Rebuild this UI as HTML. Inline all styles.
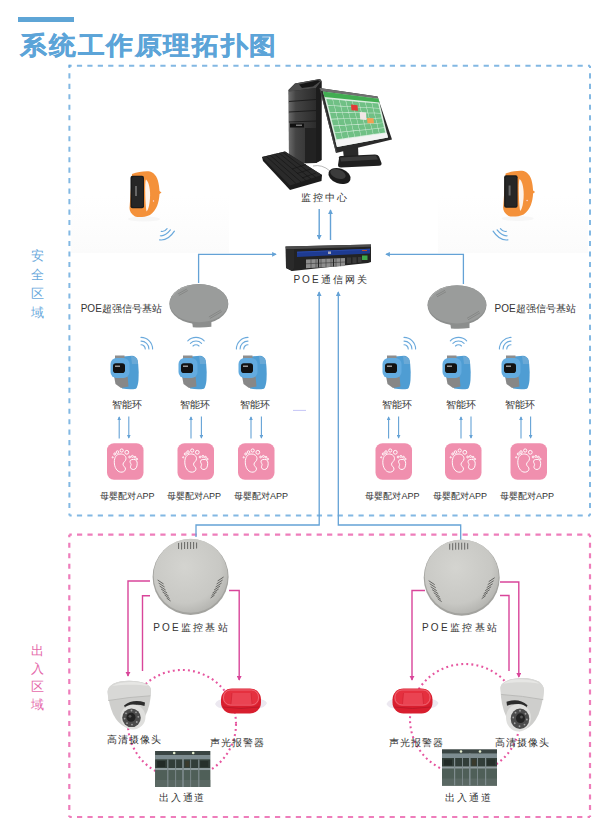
<!DOCTYPE html>
<html><head><meta charset="utf-8">
<style>
html,body{margin:0;padding:0;background:#fff;width:600px;height:820px;overflow:hidden;}
svg{display:block;font-family:"Liberation Sans",sans-serif;}
.lb{font-size:10px;fill:#333;font-weight:500;}
.sm{font-size:9px;fill:#333;font-weight:500;}
.lm{font-size:10px;fill:#333;font-weight:500;}
</style></head>
<body>
<svg width="600" height="820" viewBox="0 0 600 820">
<defs>
  <marker id="ab" viewBox="0 0 6 6" refX="5" refY="3" markerWidth="3.6" markerHeight="3.6" orient="auto-start-reverse">
    <path d="M0,0 L6,3 L0,6 z" fill="#64a2d6"/>
  </marker>
  <marker id="ap" viewBox="0 0 6 6" refX="5" refY="3" markerWidth="3.6" markerHeight="3.6" orient="auto-start-reverse">
    <path d="M0,0 L6,3 L0,6 z" fill="#d9459a"/>
  </marker>
  <!-- wifi arcs, concave toward bottom (origin at arc center) -->
  <g id="wifi" fill="none" stroke="#6aa9dc" stroke-width="1.1" stroke-linecap="round">
    <path d="M-3,-3 A4.2,4.2 0 0 1 3,-3"/>
    <path d="M-5.6,-5.6 A7.9,7.9 0 0 1 5.6,-5.6"/>
    <path d="M-8.2,-8.2 A11.6,11.6 0 0 1 8.2,-8.2"/>
  </g>
  <!-- orange band watch, origin top-left 128,171 -->
  <g id="ow">
    <ellipse cx="22" cy="53" rx="16" ry="2.5" fill="#f6f6f6"/>
    <path d="M10,8 C16,6 22,5 28,5.5 C33,7 36,12 37,20 L37.5,25 L39.5,26.5 L37.5,28 C37,36 35,44 28,49 C22,51.5 16,51.5 13,50.5 C9,48 7.5,45 7.5,42 Z" fill="#f4913a"/>
    <path d="M24,13.5 C27,16 28.5,24 28,32 C27.5,40 26,44 24.5,45.5 C23.5,40 23.2,30 23.2,22 C23.2,17 23.5,14.5 24,13.5Z" fill="#fdf3ea"/>
    <rect x="8.5" y="9.8" width="13.5" height="32.5" rx="2" fill="#1b1b1b"/>
    <rect x="10" y="11" width="11" height="30" rx="1.5" fill="#262626"/>
    <rect x="13" y="20" width="2" height="10" fill="#666"/>
    <circle cx="31.5" cy="35" r="0.7" fill="#fde"/>
  </g>
  <!-- blue watch, origin 110,355 -->
  <g id="bw">
    <path d="M13,1.5 L22,0.8 Q26,1 27.5,5 L28.2,9 Q29,16 28.5,25 Q28,31 26,33.8 Q20,35 12,33.5 Z" fill="#4f9dd3"/>
    <path d="M21,1 Q26,1.5 27.5,5 L28,9 L22,9 Z" fill="#6aa9d6"/>
    <rect x="5" y="0.5" width="9.5" height="5.5" fill="#8e8e8e"/>
    <path d="M4,21 L17.5,21 L18.5,31.5 L11,33 L5.5,29 Z" fill="#878787"/>
    <rect x="0.5" y="3" width="19" height="20" rx="6" fill="#63abdf"/>
    <rect x="3" y="8.3" width="12" height="9.7" rx="2.8" fill="#121212"/>
    <rect x="5" y="10.5" width="5" height="1.5" fill="#999"/>
  </g>
  <!-- app icon origin top-left, 36x36 -->
  <g id="app">
    <rect x="0" y="0" width="36.5" height="36.5" rx="7" fill="#f08fae"/>
    <g fill="none" stroke="#fff" stroke-width="0.95">
      <path d="M13,10.8 C16.5,10.6 19,12.5 19,15.5 C19,18 16,19 16,21 C16,23 18.8,24 18.5,26 C18,28.5 15.5,29.2 13.5,28.9 C10,28.5 7.3,24 7.3,19 C7.3,14 9.5,11 13,10.8 Z"/>
      <circle cx="14.7" cy="7.3" r="1.6"/><circle cx="19.8" cy="9.1" r="1.9"/><circle cx="10.5" cy="8.9" r="1.3"/>
      <circle cx="7.8" cy="10.8" r="1.05"/><circle cx="5.7" cy="14.1" r="0.6"/>
      <path d="M26.5,16.2 C29,16 30.3,18 30.2,20.5 C30.1,23.5 29,26.3 26.5,26.3 C24.5,26.3 23.2,25 23.5,23.5 C23.8,22 24.5,21.5 23.8,20.5 C23,19.2 22.7,18 23.5,17 C24.2,16.4 25.3,16.2 26.5,16.2 Z"/>
      <circle cx="22.6" cy="13.8" r="0.9"/><circle cx="25.4" cy="13.2" r="1"/><circle cx="28" cy="14" r="0.9"/><circle cx="29.9" cy="15.9" r="0.75"/>
    </g>
  </g>
  <!-- gray ceiling base station, origin center -->
  <g id="gs">
    <path d="M-7,16 L12.5,16 L12.5,22.8 Q3,24 -6,23.2 Z" fill="#8c8e8d"/>
    <ellipse cx="0" cy="0" rx="29.5" ry="20" fill="#8c8e8d"/>
    <ellipse cx="0" cy="-0.8" rx="29.2" ry="19" fill="#9a9c9b"/>
    <path d="M-26,-8 Q-22,-15 -10,-18.5" stroke="#a9abaa" stroke-width="1" fill="none"/>
    <g stroke="#7c7e7d" stroke-width="0.7">
      <path d="M-21,-10 L-12,-15 M-20,-8.5 L-11,-13.5"/>
      <path d="M10,13 L22,6 M11,14.5 L23,7.5"/>
    </g>
  </g>
  <!-- POE monitor base station, origin center r=38 -->
  <radialGradient id="pg" cx="0.42" cy="0.38" r="0.65">
    <stop offset="0" stop-color="#d4d4d0"/>
    <stop offset="0.75" stop-color="#c8c8c4"/>
    <stop offset="1" stop-color="#b4b4b0"/>
  </radialGradient>
  <g id="ps">
    <circle cx="0" cy="0" r="38" fill="#a3a39f"/>
    <circle cx="0" cy="-1.2" r="37" fill="url(#pg)"/>
    <g stroke="#5a5a58" stroke-width="0.9">
      <path d="M-12,-34 v6 M-9,-34.5 v7 M-6,-35 v7 M-3,-35 v7 M0,-35 v7 M3,-35 v7 M6,-34.5 v6"/>
      <path d="M-33,3 l6,4 M-32,6 l6,4 M-31,9 l6,4 M-29.5,12 l6,4 M-28,15 l6,4 M-26,18 l5,3.5 M-24,21 l4,3"/>
      <path d="M33,0 l-6,4 M32,3 l-6,4 M31,6 l-6,4 M29.5,9 l-6,4 M28,12 l-6,4 M26,15 l-5,3.5 M24,18 l-4,3"/>
    </g>
  </g>
  <!-- dome camera, origin top-left 107,680 (48x50) -->
  <g id="cam">
    <path d="M3.6,16 C3.6,9 12,5 25,4.8 C38,5 47,8.5 47,14 L46.5,22 Q45,36 37,47 Q30,53 22,51.5 Q14,48 9,38 Q5,29 3.6,16 Z" fill="#cececc"/>
    <path d="M3.6,16 C3.6,9 12,5 25,4.8 C38,5 47,8.5 47,14 L46.3,19.8 Q25,21 4.3,24.5 Z" fill="#d8d8d6"/>
    <path d="M8,10 C14,6.5 22,5.8 30,6 C37,6.3 42,8 44,10 C36,8.5 20,8.2 8,10Z" fill="#e6e6e4"/>
    <path d="M4.3,24.5 Q25,21 46.3,19.8" stroke="#b9b9b7" stroke-width="0.9" fill="none"/>
    <path d="M20,29.5 Q29,22.5 41,26.5 L40.5,30 Q30,26.5 21.5,32.5 Z" fill="#2c2c2c"/>
    <circle cx="29" cy="41" r="12.5" fill="#dfdfdd"/>
    <circle cx="27.5" cy="41.8" r="9.3" fill="#4c4c4c"/>
    <circle cx="27" cy="41.3" r="4.5" fill="#232323"/>
    <circle cx="26" cy="40.3" r="1.4" fill="#5a5a5a"/>
    <g fill="#a0a0a0">
      <circle cx="27.5" cy="34.5" r="0.9"/><circle cx="32" cy="36.3" r="0.9"/><circle cx="34.3" cy="40.8" r="0.9"/>
      <circle cx="32.8" cy="46" r="0.9"/><circle cx="28" cy="48.6" r="0.9"/><circle cx="23" cy="47.2" r="0.9"/>
      <circle cx="20.6" cy="42.6" r="0.9"/><circle cx="22" cy="37.3" r="0.9"/>
    </g>
  </g>
  <!-- red alarm, origin top-left 215,688 -->
  <g id="alm">
    <path d="M-6,16 Q-4,11 4,11 L36,11 Q44,11 46,15 Q44,20 36,20.5 L4,20.5 Q-4,20.5 -6,16Z" fill="#ece8f0"/>
    <rect x="0" y="0.5" width="40" height="25" rx="11" fill="#d81e2e"/>
    <rect x="1.5" y="1" width="37" height="17" rx="8" fill="#e5303f"/>
    <rect x="2.5" y="2" width="35" height="15" rx="7" fill="none" stroke="#f07a86" stroke-width="0.7"/>
    <path d="M11,5 L30,5 L31,16 L10,16 Z" fill="#ea4352"/>
    <path d="M11,5 L10,16 M30,5 L31,16" stroke="#c81a2a" stroke-width="0.5"/>
    <path d="M2,19 Q20,22 38,19" stroke="#b81828" stroke-width="0.8" fill="none"/>
  </g>
  <!-- gate picture, origin top-left 155,751 (55x36) -->
  <g id="gate">
    <rect x="0" y="0" width="55" height="36" fill="#4e5d57"/>
    <rect x="0" y="0" width="55" height="4" fill="#3a4543"/>
    <rect x="0" y="4" width="55" height="4.5" fill="#7d8c90"/>
    <rect x="0" y="8.5" width="55" height="8.5" fill="#323e39"/>
    <rect x="0" y="17" width="55" height="2.2" fill="#8f9c9e"/>
    <rect x="0" y="19.2" width="55" height="16.8" fill="#4f5f58"/>
    <rect x="0" y="29" width="55" height="7" fill="#5a6863"/>
    <g fill="#7f8c8e">
      <rect x="12" y="8.5" width="1.2" height="27.5"/><rect x="20" y="8.5" width="0.9" height="27.5"/>
      <rect x="27" y="4" width="1.6" height="32"/><rect x="35" y="8.5" width="0.9" height="27.5"/><rect x="43" y="8.5" width="1.2" height="27.5"/>
    </g>
    <rect x="2" y="10" width="8" height="6" fill="#222b27"/><rect x="30" y="10" width="4" height="6" fill="#3a3a2c"/><rect x="45" y="10" width="8" height="6" fill="#26302b"/>
    <circle cx="19" cy="2" r="1.3" fill="#e6efd0"/><circle cx="38" cy="2" r="1.3" fill="#e6efd0"/>
  </g>
</defs>

<linearGradient id="fb" x1="0" y1="0" x2="0" y2="1"><stop offset="0" stop-color="#fff"/><stop offset="1" stop-color="#fbfbfb"/></linearGradient>
<rect x="71" y="196" width="158" height="57" fill="url(#fb)"/>
<rect x="438" y="196" width="150" height="57" fill="url(#fb)"/>
<!-- title -->
<rect x="18" y="17" width="56" height="5" fill="#5ea5d6"/>
<text x="0" y="53.6" transform="translate(20.3,0) scale(1.07,1)" font-size="25" font-weight="bold" letter-spacing="1.65" fill="#5ca4d8" stroke="#5ca4d8" stroke-width="0.35">系统工作原理拓扑图</text>

<!-- dashed frames -->
<g fill="none" stroke="#82b8e3" stroke-width="2">
  <line x1="69.4" y1="65.7" x2="590" y2="65.7" stroke-dasharray="5.2 5.23" stroke-dashoffset="2.93"/>
  <line x1="69.4" y1="515.5" x2="590" y2="515.5" stroke-dasharray="5.2 5.23" stroke-dashoffset="2.93"/>
  <line x1="69.4" y1="65.7" x2="69.4" y2="515.5" stroke-dasharray="5.1 5.38" stroke-dashoffset="2.88"/>
  <line x1="590" y1="65.7" x2="590" y2="515.5" stroke-dasharray="5.1 5.38" stroke-dashoffset="2.88"/>
  <rect x="68.4" y="64.7" width="2" height="2" fill="#6aa9dc" stroke="none"/>
</g>
<g fill="none" stroke="#ee7dbb" stroke-width="2.2">
  <line x1="69.3" y1="534.7" x2="590" y2="534.7" stroke-dasharray="5.2 5.22" stroke-dashoffset="2.72"/>
  <line x1="69.3" y1="817" x2="590" y2="817" stroke-dasharray="5.2 5.22" stroke-dashoffset="2.72"/>
  <line x1="69.3" y1="534.7" x2="69.3" y2="817" stroke-dasharray="5 5.49" stroke-dashoffset="2.49"/>
  <line x1="590" y1="534.7" x2="590" y2="817" stroke-dasharray="5 5.49" stroke-dashoffset="2.49"/>
</g>

<!-- side labels -->
<g font-size="13" fill="#6aa9dc" text-anchor="middle">
  <text x="37" y="260">安</text><text x="37" y="278.5">全</text><text x="37" y="298">区</text><text x="37" y="317">域</text>
</g>
<g font-size="13" fill="#e569aa" text-anchor="middle">
  <text x="37" y="655">出</text><text x="37" y="673">入</text><text x="37" y="690.5">区</text><text x="37" y="708.5">域</text>
</g>

<!-- ====== computer ====== -->
<g id="pc">
  <!-- tower -->
  <linearGradient id="tw" x1="0" y1="0" x2="1" y2="0"><stop offset="0" stop-color="#6a6a6a"/><stop offset="0.25" stop-color="#444"/><stop offset="1" stop-color="#2c2c2c"/></linearGradient>
  <path d="M288.5,90 L295,83.5 L320,79 L321.5,81 L321.5,160 L316,163 L289,163.5 Z" fill="#262626"/>
  <path d="M288.5,90 L295,83.5 L320,79 L321.5,81 L316,88 L289,91.5 Z" fill="#4c4c4c"/>
  <path d="M299,84.5 L318,80.3 L320,81.5 L313,86.5 L302,88 Z" fill="#161616"/>
  <path d="M289,91.5 L316,88 L316,163 L289,163.5 Z" fill="url(#tw)"/>
  <path d="M316,88 L321.5,81 L321.5,160 L316,163 Z" fill="#1c1c1c"/>
  <g stroke="#1a1a1a" stroke-width="0.9"><path d="M289,101.5 L316,99.5 M289,112 L316,110.5 M289,122 L316,121"/></g>
  <rect x="290" y="123.5" width="14" height="4" fill="#111"/>
  <rect x="296" y="124.5" width="6" height="1.5" fill="#777"/>
  <rect x="305" y="128" width="11" height="35" fill="#222"/>
  <!-- monitor -->
  <path d="M319.5,88 L377.5,96.5 L392,139.5 L336,153 Z" fill="#2a2a2a"/>
  <path d="M319.5,88 L377.5,96.5 L378.5,99 L321,91 Z" fill="#707070"/>
  <path d="M319.5,88 L321,91 L337,152.5 L336,153 Z" fill="#4a4a4a"/>
  <path d="M323.0,91.5 L378.5,98.7 L388.0,137.5 L337.0,147.0Z" fill="#d9eedf"/>
  <path d="M323.0,91.5 L378.5,98.7 L379.5,102.6 L324.4,97.1Z" fill="#42ad52"/>
  <path d="M326.4,98.9 L332.5,99.5 L334.0,105.4 L328.0,105.1Z M332.9,99.5 L339.0,100.1 L340.5,105.8 L334.4,105.5Z M339.5,100.1 L345.5,100.7 L346.9,106.2 L340.9,105.8Z M346.0,100.7 L352.1,101.3 L353.4,106.6 L347.4,106.2Z M352.5,101.3 L358.6,101.9 L359.9,106.9 L353.8,106.6Z M359.0,101.9 L365.1,102.4 L366.3,107.3 L360.3,107.0Z M365.6,102.5 L371.6,103.0 L372.8,107.7 L366.7,107.3Z M372.1,103.1 L378.2,103.6 L379.2,108.0 L373.2,107.7Z M328.1,105.7 L334.2,106.1 L335.7,112.0 L329.7,111.9Z M334.6,106.1 L340.6,106.4 L342.1,112.2 L336.1,112.0Z M341.1,106.4 L347.1,106.8 L348.5,112.3 L342.5,112.2Z M347.5,106.8 L353.5,107.1 L354.9,112.4 L348.9,112.3Z M354.0,107.1 L360.0,107.5 L361.2,112.5 L355.3,112.4Z M360.4,107.5 L366.4,107.8 L367.6,112.7 L361.7,112.6Z M366.9,107.8 L372.9,108.2 L374.0,112.8 L368.1,112.7Z M373.3,108.2 L379.3,108.5 L380.4,112.9 L374.5,112.8Z M329.9,112.6 L335.8,112.7 L337.3,118.6 L331.4,118.7Z M336.3,112.7 L342.2,112.8 L343.7,118.5 L337.8,118.6Z M342.6,112.8 L348.6,112.9 L350.0,118.4 L344.1,118.5Z M349.0,112.9 L355.0,113.0 L356.3,118.3 L350.4,118.4Z M355.4,113.0 L361.4,113.1 L362.6,118.2 L356.7,118.3Z M361.8,113.1 L367.8,113.2 L369.0,118.0 L363.1,118.2Z M368.2,113.2 L374.2,113.3 L375.3,117.9 L369.4,118.0Z M374.6,113.3 L380.5,113.4 L381.6,117.8 L375.7,117.9Z M331.6,119.4 L337.5,119.3 L339.0,125.2 L333.1,125.6Z M337.9,119.3 L343.8,119.1 L345.2,124.9 L339.4,125.2Z M344.2,119.1 L350.1,119.0 L351.5,124.5 L345.7,124.8Z M350.6,119.0 L356.5,118.8 L357.8,124.1 L351.9,124.5Z M356.9,118.8 L362.8,118.7 L364.0,123.8 L358.2,124.1Z M363.2,118.7 L369.1,118.6 L370.3,123.4 L364.5,123.8Z M369.5,118.5 L375.4,118.4 L376.6,123.0 L370.7,123.4Z M375.8,118.4 L381.7,118.3 L382.8,122.7 L377.0,123.0Z M333.3,126.2 L339.1,125.9 L340.6,131.8 L334.9,132.4Z M339.6,125.9 L345.4,125.5 L346.8,131.2 L341.1,131.8Z M345.8,125.5 L351.7,125.1 L353.0,130.6 L347.3,131.2Z M352.1,125.1 L357.9,124.7 L359.2,130.0 L353.5,130.6Z M358.3,124.7 L364.2,124.3 L365.4,129.4 L359.7,130.0Z M364.6,124.3 L370.4,123.9 L371.6,128.8 L365.8,129.4Z M370.8,123.9 L376.7,123.5 L377.8,128.2 L372.0,128.7Z M377.1,123.5 L382.9,123.1 L384.0,127.6 L378.2,128.1Z M335.0,133.1 L340.8,132.5 L342.3,138.4 L336.6,139.2Z M341.2,132.4 L347.0,131.8 L348.4,137.6 L342.7,138.4Z M347.4,131.8 L353.2,131.2 L354.6,136.7 L348.9,137.5Z M353.6,131.2 L359.4,130.6 L360.7,135.9 L355.0,136.7Z M359.8,130.5 L365.6,129.9 L366.8,135.0 L361.1,135.8Z M366.0,129.9 L371.8,129.3 L373.0,134.1 L367.2,135.0Z M372.2,129.3 L377.9,128.7 L379.1,133.3 L373.4,134.1Z M378.4,128.6 L384.1,128.0 L385.2,132.4 L379.5,133.2Z" fill="#70c085"/>
  <path d="M351,104.5 L357.5,105.3 L358,110.7 L351.5,110.2Z" fill="#e23a36"/>
  <path d="M359.7,112 L366,112.6 L366.5,120 L360.2,119.5Z" fill="#f2e6e6"/>
  <path d="M367,118 L373.5,118.3 L374,123.3 L367.5,123.2Z" fill="#f3a052"/>
  <path d="M335.4,140.6 L386.9,133.0 L388.0,137.5 L337.0,147.0Z" fill="#f4f4f4"/>
  <!-- stand -->
  <path d="M343,150 L358,146.5 L358.5,157.5 L344,159 Z" fill="#2a2a2a"/>
  <path d="M339,158.5 Q338,156.5 341,156 L375,154.5 Q378,154.5 379,156.5 L381.5,163 Q382,165.5 379,165.8 L341,167.5 Q338,167.5 338,165 Z" fill="#1f1f1f"/>
  <path d="M340,157.5 L376,155.5 L378,159.5 L341,161.5 Z" fill="#3a3a3a"/>
  <!-- keyboard -->
  <path d="M262,157 L285,151.5 L322,175 L321.5,181 L290,190 L263,161 Z" fill="#1c1c1c"/>
  <path d="M262,157 L285,151.5 L322,175 L290,185.5 Z" fill="#2a2a2a"/>
  <g stroke="#161616" stroke-width="0.7">
    <path d="M266,156 L296,183.5 M270,155 L301,182 M274.5,154 L306,180.5 M279,153 L311,179 M283,152.3 L316,177.5"/>
    <path d="M292,169 L306,164.5 M297,173.5 L311,169 M302,178 L316,173"/>
  </g>
  <!-- mouse -->
  <path d="M313,166 Q322,164 330,171" stroke="#8a8a8a" stroke-width="0.6" fill="none"/>
  <ellipse cx="339.5" cy="176" rx="11.5" ry="7.5" transform="rotate(20 339.5 176)" fill="#1c1c1c"/>
  <ellipse cx="338" cy="174" rx="8" ry="4.5" transform="rotate(20 338 174)" fill="#3c3c3c"/>
</g>
<text class="lb" x="325" y="200.5" text-anchor="middle" letter-spacing="2">监控中心</text>

<!-- arrows computer <-> switch -->
<line x1="319.2" y1="209" x2="319.2" y2="239" stroke="#64a2d6" stroke-width="1.4" marker-end="url(#ab)"/>
<line x1="330.5" y1="240" x2="330.5" y2="210" stroke="#64a2d6" stroke-width="1.4" marker-end="url(#ab)"/>

<!-- ====== switch ====== -->
<g id="sw">
  <path d="M285.5,246.5 L371,244.5 L371,262 L368,263 L292,271 L286,268 Z" fill="#232323"/>
  <path d="M285.5,246.5 L371,244.5 L371,246.8 L286,249.2 Z" fill="#4c4c4c"/>
  <path d="M286,249.2 L294,249 L294,268 L292,271 L286,268 Z" fill="#2a2a2a"/>
  <path d="M297,251.8 L370,248.8 L370,253.5 L297,257 Z" fill="#1e3b92"/>
  <path d="M297,251.8 L370,248.8 L370,249.8 L297,252.8 Z" fill="#2a4aa8"/>
  <rect x="328" y="251.5" width="3" height="2.5" fill="#aab"/>
  <path d="M306,259.5 L345,258 L345,266 L306,268.3 Z" fill="#8e8e8e"/>
  <g stroke="#3a3a3a" stroke-width="0.6">
    <path d="M306,263.8 L345,262"/>
    <path d="M311,259.3 V268 M316,259.1 V267.7 M321,258.9 V267.4 M326,258.7 V267.1 M331,258.5 V266.8 M336,258.3 V266.5 M340.5,258.1 V266.2"/>
    <path d="M318.5,259 V267.5 M333.5,258.4 V266.6" stroke="#222" stroke-width="1.2"/>
  </g>
  <g fill="#3a3a3a"><rect x="347" y="257.5" width="4" height="6"/><rect x="352.5" y="257.2" width="4" height="6"/><rect x="358" y="257" width="3.5" height="5.5"/></g>
  <rect x="362" y="255.5" width="5.5" height="4.5" fill="#3ea84a"/>
  <rect x="362" y="250" width="5" height="1" fill="#c04a2a"/>
</g>
<text class="lb" x="331" y="283" text-anchor="middle" letter-spacing="2">POE通信网关</text>

<!-- switch side links -->
<polyline points="198.6,283 198.6,254.3 276,254.3" fill="none" stroke="#64a2d6" stroke-width="1.3" marker-end="url(#ab)"/>
<polyline points="463.4,284 463.4,254.3 386,254.3" fill="none" stroke="#64a2d6" stroke-width="1.3" marker-end="url(#ab)"/>

<!-- lines to lower stations -->
<polyline points="196,537 196,525 319.2,525 319.2,292" fill="none" stroke="#64a2d6" stroke-width="1.3" marker-end="url(#ab)"/>
<polyline points="460.7,540 460.7,525 338.3,525 338.3,292" fill="none" stroke="#64a2d6" stroke-width="1.3" marker-end="url(#ab)"/>
<line x1="293" y1="410.4" x2="306" y2="410.4" stroke="#9c9cf0" stroke-width="0.6"/>

<!-- orange watches -->
<use href="#ow" x="122" y="166"/>
<use href="#ow" x="495.6" y="165.5"/>
<g fill="none" stroke="#6aa9dc" stroke-width="1.2" stroke-linecap="round">
  <path d="M161.25,231.4 Q164.6,232 167.1,228.7"/><path d="M160.4,235.75 Q165.4,236.2 170.4,229.9"/><path d="M159.6,239.9 Q168,241 174.4,231.2"/>
</g>
<g fill="none" stroke="#6aa9dc" stroke-width="1.2" stroke-linecap="round" transform="translate(667.5,0) scale(-1,1)">
  <path d="M161.25,231.4 Q164.6,232 167.1,228.7"/><path d="M160.4,235.75 Q165.4,236.2 170.4,229.9"/><path d="M159.6,239.9 Q168,241 174.4,231.2"/>
</g>

<!-- gray base stations -->
<use href="#gs" x="198.85" y="304"/>
<use href="#gs" x="457" y="305.3"/>
<text class="lm" x="80.7" y="311.5">POE超强信号基站</text>
<text class="lm" x="494.5" y="311.5">POE超强信号基站</text>

<!-- blue watches -->
<use href="#bw" x="110" y="355"/>
<use href="#bw" x="178" y="355"/>
<use href="#bw" x="238" y="355"/>
<use href="#bw" x="382" y="355"/>
<use href="#bw" x="442" y="355"/>
<use href="#bw" x="501" y="355"/>
<use href="#wifi" transform="translate(141,349) rotate(45)"/>
<use href="#wifi" transform="translate(196,349)"/>
<use href="#wifi" transform="translate(248,349) rotate(-45)"/>
<use href="#wifi" transform="translate(404,349) rotate(45)"/>
<use href="#wifi" transform="translate(458.5,349)"/>
<use href="#wifi" transform="translate(511,349) rotate(-45)"/>
<g class="sm" text-anchor="middle" style="font-size:9.5px">
  <text x="126.5" y="407.5">智能环</text><text x="195" y="407.5">智能环</text><text x="255" y="407.5">智能环</text>
  <text x="397" y="407.5">智能环</text><text x="460.5" y="407.5">智能环</text><text x="519.5" y="407.5">智能环</text>
</g>

<!-- small arrows watch <-> app -->
<g stroke="#64a2d6" stroke-width="1.1" fill="none">
  <line x1="119.2" y1="438.5" x2="119.2" y2="417" marker-end="url(#ab)"/><line x1="128.8" y1="416.5" x2="128.8" y2="438" marker-end="url(#ab)"/>
  <line x1="191" y1="438.5" x2="191" y2="417" marker-end="url(#ab)"/><line x1="201.4" y1="416.5" x2="201.4" y2="438" marker-end="url(#ab)"/>
  <line x1="251" y1="438.5" x2="251" y2="417" marker-end="url(#ab)"/><line x1="261.4" y1="416.5" x2="261.4" y2="438" marker-end="url(#ab)"/>
  <line x1="388.6" y1="438.5" x2="388.6" y2="417" marker-end="url(#ab)"/><line x1="398.6" y1="416.5" x2="398.6" y2="438" marker-end="url(#ab)"/>
  <line x1="461" y1="438.5" x2="461" y2="417" marker-end="url(#ab)"/><line x1="471" y1="416.5" x2="471" y2="438" marker-end="url(#ab)"/>
  <line x1="521" y1="438.5" x2="521" y2="417" marker-end="url(#ab)"/><line x1="530.6" y1="416.5" x2="530.6" y2="438" marker-end="url(#ab)"/>
</g>

<!-- app icons -->
<use href="#app" x="107" y="443.2"/>
<use href="#app" x="177.5" y="443.2"/>
<use href="#app" x="238" y="443.2"/>
<use href="#app" x="375.5" y="443.2"/>
<use href="#app" x="445" y="443.2"/>
<use href="#app" x="510.5" y="443.2"/>
<g class="sm" text-anchor="middle">
  <text x="127.4" y="498.5">母婴配对APP</text><text x="194" y="498.5">母婴配对APP</text><text x="261" y="498.5">母婴配对APP</text>
  <text x="392.5" y="498.5">母婴配对APP</text><text x="460" y="498.5">母婴配对APP</text><text x="527" y="498.5">母婴配对APP</text>
</g>

<!-- ====== lower section ====== -->
<!-- dotted circles -->
<circle cx="182" cy="724" r="54" fill="none" stroke="#e6559f" stroke-width="2.1" stroke-dasharray="1.9 3.2"/>
<circle cx="465" cy="719" r="55" fill="none" stroke="#e6559f" stroke-width="2.1" stroke-dasharray="1.9 3.2"/>

<!-- pink link lines -->
<g fill="none" stroke="#d9459a" stroke-width="1.4">
  <polyline points="150,581 128,581 128,676" marker-end="url(#ap)"/>
  <polyline points="142.5,671 142.5,595.8 150,595.8"/>
  <polyline points="229,590.5 239.2,590.5 239.2,680" marker-end="url(#ap)"/>
  <polyline points="425,590.5 412,590.5 412,680" marker-end="url(#ap)"/>
  <polyline points="500,582 518.8,582 518.8,677" marker-end="url(#ap)"/>
  <polyline points="509,671 509,595.5 500,595.5"/>
</g>

<use href="#ps" x="190.6" y="577"/>
<use href="#ps" x="461.7" y="577.7"/>
<text class="lb" x="191.5" y="631" text-anchor="middle" letter-spacing="2.2">POE监控基站</text>
<text class="lb" x="460.5" y="631" text-anchor="middle" letter-spacing="2.3">POE监控基站</text>

<use href="#cam" x="104" y="676"/>
<use href="#cam" transform="translate(547.5,672.7) scale(-1,1.1)"/>
<use href="#alm" x="221" y="688"/>
<use href="#alm" x="392.5" y="688"/>
<use href="#gate" x="155.2" y="751"/>
<use href="#gate" x="442" y="749.5"/>

<g class="sm" text-anchor="middle" style="font-size:9.5px" letter-spacing="1.1">
  <text x="134.5" y="743.3">高清摄像头</text><text x="237.5" y="745.7">声光报警器</text>
  <text x="416.5" y="745.7">声光报警器</text><text x="522.5" y="745.7">高清摄像头</text>
</g>
<g class="sm" text-anchor="middle" style="font-size:10px" letter-spacing="1.8">
  <text x="182.7" y="801.3">出入通道</text><text x="468.8" y="801.3">出入通道</text>
</g>
</svg>
</body></html>
